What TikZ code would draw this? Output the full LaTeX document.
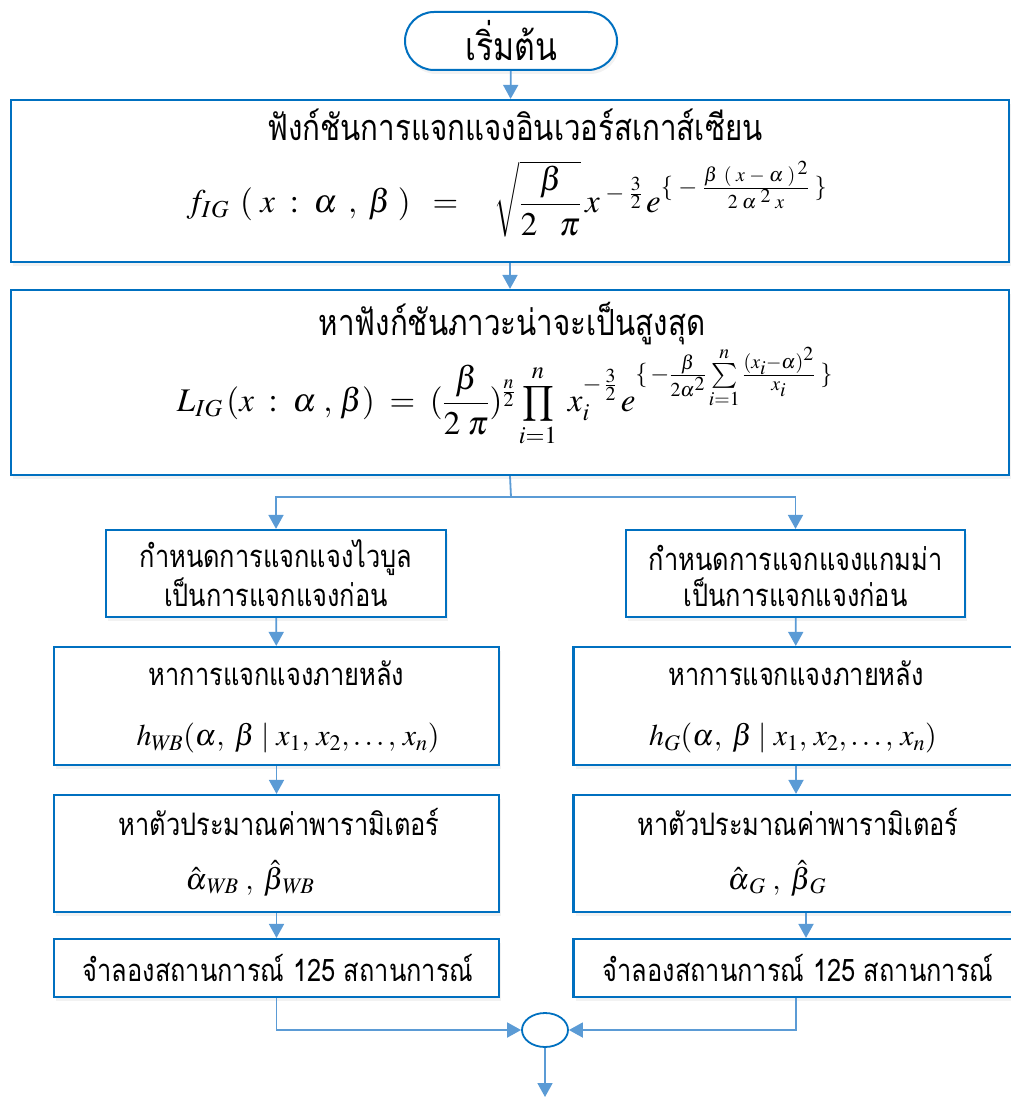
\documentclass[tikz,border=0pt]{standalone}
\usepackage{amsmath}
\usepackage{mathptmx}
\usepackage{exscale}
\usepackage{fontspec}
\newfontfamily\thaifont[Script=Thai, FakeStretch=0.82]{Loma}
\usetikzlibrary{shapes, arrows.meta, positioning, shadows}

\definecolor{boxblue}{RGB}{0,112,192}
\definecolor{linkblue}{RGB}{91,155,213}

\tikzset{
  box/.style={draw=boxblue, line width=2.2pt, fill=white, rectangle,
    drop shadow={opacity=0.10, shadow xshift=2pt, shadow yshift=-4pt}},
  startstop/.style={draw=boxblue, line width=2pt, fill=white, rounded rectangle,
    minimum width=212pt, minimum height=58pt, inner sep=0pt,
    font=\fontsize{39}{44}\selectfont\thaifont,
    drop shadow={opacity=0.10, shadow xshift=2pt, shadow yshift=-4pt}},
  joint/.style={draw=boxblue, line width=1.8pt, fill=white, ellipse,
    minimum width=46pt, minimum height=34pt, inner sep=0pt},
  thaibig/.style={font=\fontsize{36}{40}\selectfont\thaifont, inner sep=0pt},
  thai/.style={font=\fontsize{31}{35}\selectfont\thaifont, inner sep=0pt},
  eq/.style={font=\fontsize{33}{38}\selectfont, inner sep=0pt},
  eqs/.style={font=\fontsize{30}{34}\selectfont, inner sep=0pt},
  flow/.style={draw=linkblue, line width=1.8pt, -{Triangle[width=15pt,length=14pt]}},
  link/.style={draw=linkblue, line width=1.8pt}
}

\begin{document}
\begin{tikzpicture}[x=1pt, y=-1pt]
  \useasboundingbox (0,0) rectangle (1011,1097);

  % Start
  \node (start) [startstop] at (511,41) {เริ่มต้น};

  % Inverse Gaussian distribution
  \node (dist)  [box, minimum width=998pt, minimum height=162pt] at (510,181) {};
  \node (distT) [thaibig] at (515,125) {ฟังก์ชันการแจกแจงอินเวอร์สเกาส์เซียน};
  \node (distF) [eq] at (507,199)
    {$f_{IG}\;\,(\;x\;:\;\alpha\;\,,\;\beta\;)\;\;=\;\;\;\;\sqrt{\dfrac{\,\beta\,}{2\;\;\;\pi}}\,x^{\;-\;\frac{3}{2}}\,e^{\{\;-\;\frac{\beta\;\,(\;x\;-\;\alpha\;)^{\,2}}{2\;\alpha^{\;2}\;x}\;\}}$};

  % Likelihood
  \node (lik)  [box, minimum width=998pt, minimum height=185pt] at (510,382.5) {};
  \node (likT) [thaibig] at (512,324) {หาฟังก์ชันภาวะน่าจะเป็นสูงสุด};
  \node (likF) [eq] at (505,397)
    {$\displaystyle L_{IG}\,(x\;:\;\alpha\;,\,\beta)\;=\;(\frac{\beta}{2\;\pi})^{\frac{n}{2}}\prod_{i=1}^{n}\;x_i^{-\,\frac{3}{2}}\,e^{\{\,-\frac{\beta}{2\alpha^2}\sum\limits_{i=1}^{n}\frac{(x_i-\alpha)^2}{x_i}\;\}}$};
  \coordinate (split) at (511,497);

  % Weibull prior (left)
  \node (wbA)  [box, minimum width=340pt, minimum height=87pt] at (276,573.5) {};
  \node (wbA1) [thai] at (276,558) {กำหนดการแจกแจงไวบูล};
  \node (wbA2) [thai] at (276,592) {เป็นการแจกแจงก่อน};
  \node (wbB)  [box, minimum width=445pt, minimum height=118pt] at (276.5,706) {};
  \node (wbBT) [thai] at (276.5,673) {หาการแจกแจงภายหลัง};
  \node (wbBF) [eqs] at (288,738) {$h_{W\!B}(\alpha,\;\beta\;|\;x_1,\,x_2,\ldots,\,x_n)$};
  \node (wbC)  [box, minimum width=445pt, minimum height=117pt] at (276.5,853.5) {};
  \node (wbCT) [thai] at (279,822) {หาตัวประมาณค่าพารามิเตอร์};
  \node (wbCF) [eqs] at (250,878) {$\hat{\alpha}_{\,W\!B}\;,\;\hat{\beta}_{\,W\!B}$};
  \node (wbD)  [box, minimum width=445pt, minimum height=58pt] at (276.5,968) {};
  \node (wbDT) [thai] at (278,968) {จำลองสถานการณ์ 125 สถานการณ์};

  % Gamma prior (right)
  \node (gA)  [box, minimum width=339pt, minimum height=87pt] at (795.5,573.5) {};
  \node (gA1) [thai] at (795.5,558) {กำหนดการแจกแจงแกมม่า};
  \node (gA2) [thai] at (795.5,592) {เป็นการแจกแจงก่อน};
  \node (gB)  [box, minimum width=445pt, minimum height=118pt] at (796,706) {};
  \node (gBT) [thai] at (796,673) {หาการแจกแจงภายหลัง};
  \node (gBF) [eqs] at (793,738) {$h_{G}(\alpha,\;\beta\;|\;x_1,\,x_2,\ldots,\,x_n)$};
  \node (gC)  [box, minimum width=445pt, minimum height=117pt] at (796,853.5) {};
  \node (gCT) [thai] at (798,822) {หาตัวประมาณค่าพารามิเตอร์};
  \node (gCF) [eqs] at (777,878) {$\hat{\alpha}_{\,G}\;,\;\hat{\beta}_{\,G}$};
  \node (gD)  [box, minimum width=445pt, minimum height=58pt] at (796,968) {};
  \node (gDT) [thai] at (798,968) {จำลองสถานการณ์ 125 สถานการณ์};

  % Join
  \node (join) [joint] at (545,1030) {};
  \coordinate (next) at (545,1097);

  % Connectors
  \draw [flow] (start) -- (dist);
  \draw [flow] (dist) -- (lik);
  \draw [link] (lik.south) -- (split);
  \draw [flow] (split) -| (wbA.north);
  \draw [flow] (split) -| (gA.north);
  \draw [flow] (wbA) -- (wbB);
  \draw [flow] (wbB) -- (wbC);
  \draw [flow] (wbC) -- (wbD);
  \draw [flow] (gA) -- (gB);
  \draw [flow] (gB) -- (gC);
  \draw [flow] ([xshift=10pt]gC.south) -- ([xshift=10pt]gD.north);
  \draw [flow] (wbD.south) |- (join.west);
  \draw [flow] (gD.south) |- (join.east);
  \draw [flow] (join) -- (next);
\end{tikzpicture}
\end{document}
